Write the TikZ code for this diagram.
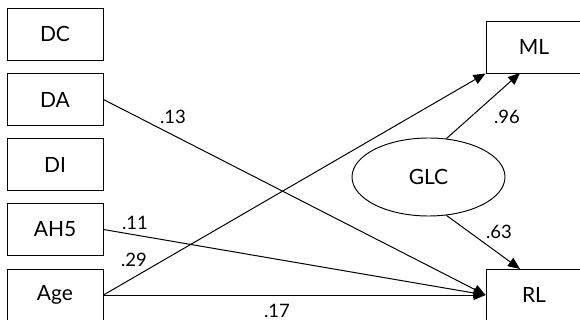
\documentclass[tikz,border=0pt]{standalone}
\usepackage{fontspec}
\setmainfont{Lato}
\usetikzlibrary{arrows.meta,shapes.geometric}
\begin{document}
\begin{tikzpicture}[x=1pt,y=-1pt,
  box/.style={draw, line width=0.95pt, minimum width=96pt, minimum height=52pt, inner sep=0pt, font=\fontsize{21}{23}\selectfont},
  latent/.style={draw, ellipse, line width=0.95pt, minimum width=153pt, minimum height=78pt, inner sep=0pt, font=\fontsize{21}{23}\selectfont},
  path/.style={draw, line width=1pt, -{Triangle[length=12pt,width=10pt]}},
  coef/.style={inner sep=0pt, font=\fontsize{18.5}{20}\selectfont}]
\useasboundingbox (0,0) rectangle (580,320);
\clip (0,0) rectangle (580,320);
\fill[white] (0,0) rectangle (580,320);
% left boxes
\node[box] (DC) at (55,34) {DC};
\node[box] (DA) at (55,99.5) {DA};
\node[box] (DI) at (55,164.5) {DI};
\node[box] (AH5) at (55,229.5) {AH5};
\node[box] (Age) at (55,295) {Age};
% right boxes
\node[box] (ML) at (534,47) {ML};
\node[box] (RL) at (534,295) {RL};
% latent
\node[latent] (GLC) at (428.5,177) {GLC};
% target points
\coordinate (MLt) at (520,73);
\coordinate (RLt) at (520,269);
% paths
\draw[path] (DA.east) -- (RL.west);
\draw[path] (AH5.east) -- (RL.west);
\draw[path] (Age.east) -- (RL.west);
\draw[path] (Age.east) -- (ML.south west);
\draw[path] (GLC.65) -- (MLt);
\draw[path] (GLC.-65) -- (RLt);
% coefficients
\node[coef] (c13) at (173,117) {.13};
\node[coef] (c11) at (135,223) {.11};
\node[coef] (c29) at (134,260) {.29};
\node[coef] (c17) at (277,310.5) {.17};
\node[coef] (c96) at (507,117) {.96};
\node[coef] (c63) at (499,232) {.63};
\end{tikzpicture}
\end{document}
